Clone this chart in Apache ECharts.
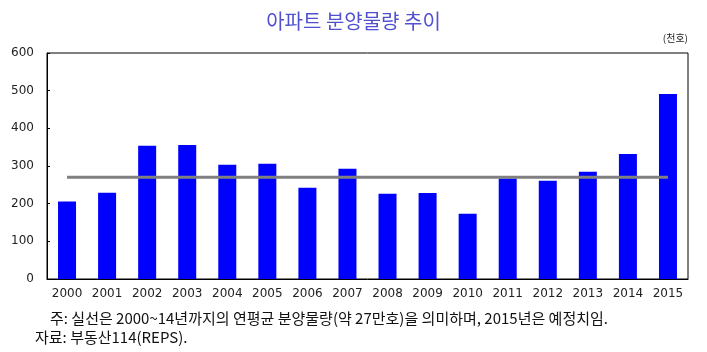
<!DOCTYPE html>
<html>
<head>
<meta charset="utf-8">
<script src="https://cdn.jsdelivr.net/npm/echarts@6/dist/echarts.min.js"></script>
<style>
  html, body { margin: 0; padding: 0; background: #fff; }
  #chart { width: 707px; height: 352px; }
</style>
</head>
<body>
<div id="chart"></div>
<script>
var years = ['2000','2001','2002','2003','2004','2005','2006','2007',
             '2008','2009','2010','2011','2012','2013','2014','2015'];
var supply = [206, 229, 354, 356, 303, 306, 242, 293,
              226, 228, 173, 267, 261, 285, 332, 491];
var average = [270, 270, 270, 270, 270, 270, 270, 270,
               270, 270, 270, 270, 270, 270, 270, 270];
var yTicks = [0, 100, 200, 300, 400, 500, 600];

var chart = echarts.init(document.getElementById('chart'));

var option = {
    animation: false,
    title: {
        text: '아파트 분양물량 추이',
        left: 'center',
        top: 6,
        textStyle: {
            fontFamily: 'Noto Sans CJK KR',
            fontSize: 20,
            fontWeight: 'normal',
            color: '#5050d0'
        }
    },
    grid: {
        left: 47, right: 19, top: 53, bottom: 73,
        show: true,
        borderColor: '#000',
        borderWidth: 1
    },
    xAxis: {
        type: 'category',
        data: years,
        axisLine: { lineStyle: { color: '#000', width: 1 } },
        axisTick: { show: false },
        axisLabel: {
            interval: 0,
            hideOverlap: false,
            margin: 9,
            fontFamily: 'DejaVu Sans',
            fontSize: 12,
            color: '#222'
        }
    },
    yAxis: {
        type: 'value',
        min: yTicks[0],
        max: yTicks[yTicks.length - 1],
        interval: 100,
        splitLine: { show: false },
        axisLine: { show: true, lineStyle: { color: '#000', width: 1 } },
        axisTick: { show: true, inside: true, length: 3, lineStyle: { color: '#000' } },
        axisLabel: {
            margin: 13,
            fontFamily: 'DejaVu Sans',
            fontSize: 12,
            color: '#222'
        }
    },
    series: [
        {
            name: '분양물량',
            type: 'bar',
            data: supply,
            barWidth: 18,
            itemStyle: { color: '#0000ff' }
        },
        {
            name: '연평균',
            type: 'line',
            data: average,
            symbol: 'none',
            lineStyle: { color: '#808080', width: 3 },
            z: 3
        }
    ],
    graphic: [
        {
            type: 'text', right: 19, top: 33,
            style: { text: '(천호)', font: '10px "Noto Sans CJK KR"', fill: '#222' }
        },
        {
            type: 'text', left: 50, top: 311,
            style: {
                text: '주: 실선은 2000~14년까지의 연평균 분양물량(약 27만호)을 의미하며, 2015년은 예정치임.',
                font: '15px "Noto Sans CJK KR"', fill: '#111'
            }
        },
        {
            type: 'text', left: 35, top: 330,
            style: { text: '자료: 부동산114(REPS).', font: '15px "Noto Sans CJK KR"', fill: '#111' }
        }
    ]
};

chart.setOption(option);
</script>
</body>
</html>
